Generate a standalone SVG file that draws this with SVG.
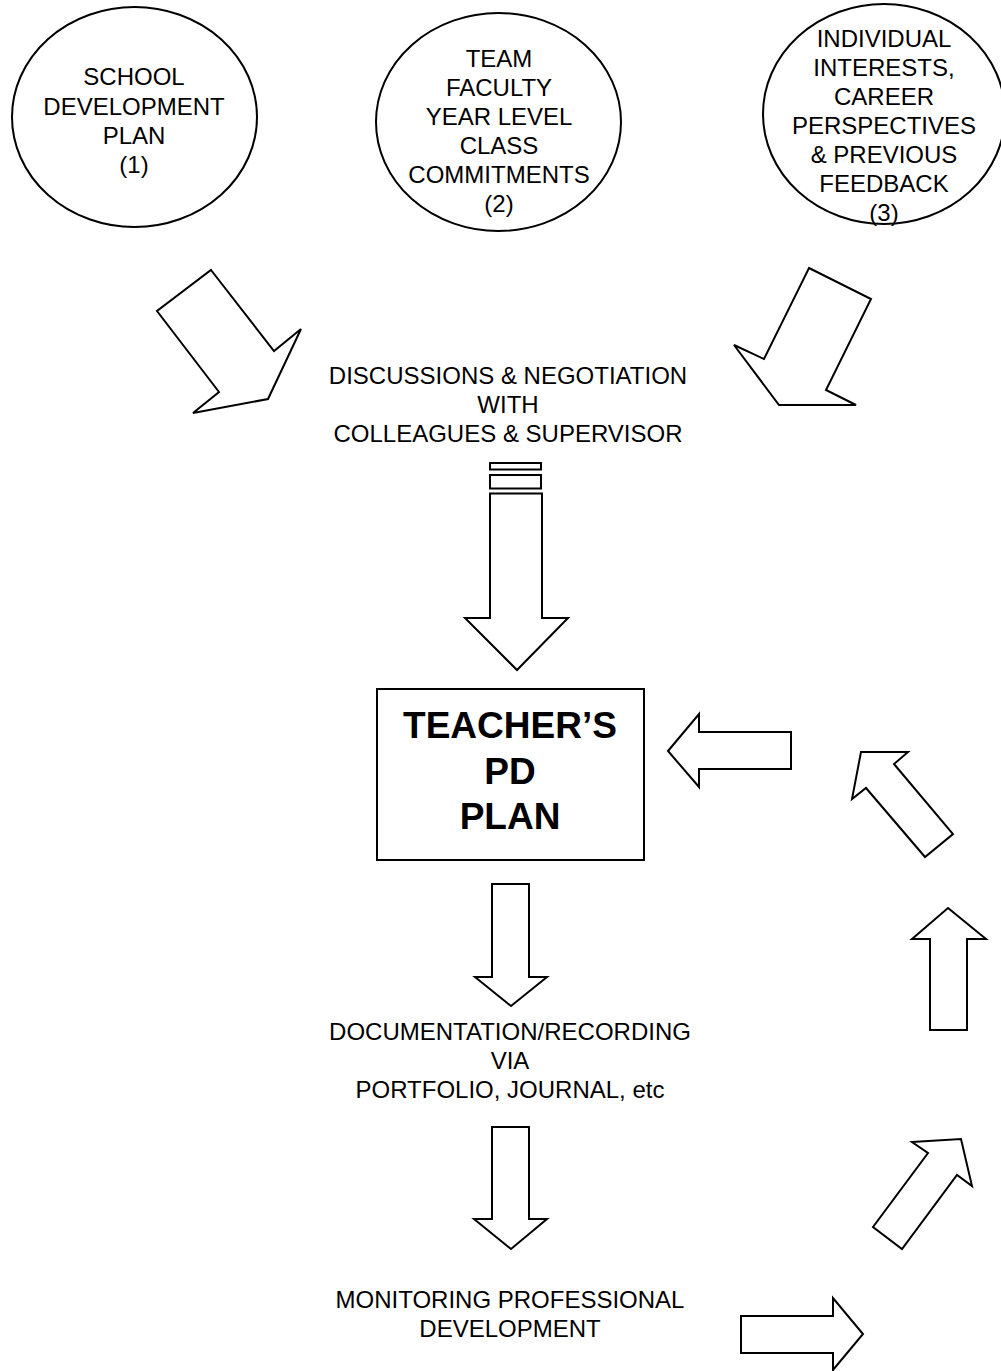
<svg xmlns="http://www.w3.org/2000/svg" width="1001" height="1371" viewBox="0 0 1001 1371">
<style>
.s{fill:#fff;stroke:#000;stroke-width:2;stroke-linejoin:miter}
.t{font-family:"Liberation Sans",Arial,sans-serif;font-size:24px;fill:#000;text-anchor:middle}
.b{font-family:"Liberation Sans",Arial,sans-serif;font-size:37px;font-weight:bold;fill:#000;text-anchor:middle}
</style>
<rect width="1001" height="1371" fill="#fff"/>
<g id="node-school">
<ellipse class="s" cx="134.5" cy="117" rx="122.5" ry="110"/>
<text class="t" x="134" y="85">SCHOOL</text>
<text class="t" x="134" y="114.5">DEVELOPMENT</text>
<text class="t" x="134" y="144">PLAN</text>
<text class="t" x="134" y="173">(1)</text>
</g>
<g id="node-team">
<ellipse class="s" cx="498.5" cy="122" rx="122.5" ry="109"/>
<text class="t" x="499" y="67">TEAM</text>
<text class="t" x="499" y="96">FACULTY</text>
<text class="t" x="499" y="125">YEAR LEVEL</text>
<text class="t" x="499" y="154">CLASS</text>
<text class="t" x="499" y="183">COMMITMENTS</text>
<text class="t" x="499" y="212">(2)</text>
</g>
<g id="node-individual">
<ellipse class="s" cx="884" cy="114" rx="121" ry="110"/>
<text class="t" x="884" y="47">INDIVIDUAL</text>
<text class="t" x="884" y="76">INTERESTS,</text>
<text class="t" x="884" y="105">CAREER</text>
<text class="t" x="884" y="134">PERSPECTIVES</text>
<text class="t" x="884" y="163">&amp; PREVIOUS</text>
<text class="t" x="884" y="192">FEEDBACK</text>
<text class="t" x="884" y="221">(3)</text>
</g>
<g id="node-discussions">
<text class="t" x="508" y="384">DISCUSSIONS &amp; NEGOTIATION</text>
<text class="t" x="508" y="413">WITH</text>
<text class="t" x="508" y="442">COLLEAGUES &amp; SUPERVISOR</text>
</g>
<g id="node-plan">
<rect class="s" x="377" y="689" width="267" height="171"/>
<text class="b" x="510" y="738">TEACHER’S</text>
<text class="b" x="510" y="784">PD</text>
<text class="b" x="510" y="829">PLAN</text>
</g>
<g id="node-documentation">
<text class="t" x="510" y="1040">DOCUMENTATION/RECORDING</text>
<text class="t" x="510" y="1069">VIA</text>
<text class="t" x="510" y="1098">PORTFOLIO, JOURNAL, etc</text>
</g>
<g id="node-monitoring">
<text class="t" x="510" y="1308">MONITORING PROFESSIONAL</text>
<text class="t" x="510" y="1337">DEVELOPMENT</text>
</g>
<g id="connectors">
<polygon class="s" points="211,270 274,351 301,329 268,399 193,413 219,392 157,311"/>
<polygon class="s" points="809,268 871,299 826,390 856,405 779,405 734,345 764,359"/>
<rect class="s" x="490" y="463" width="51" height="6.5"/>
<rect class="s" x="490" y="475" width="51" height="13.5"/>
<polygon class="s" points="490,493.5 542,493.5 542,618 568,618 517,670 465,618 490,618"/>
<polygon class="s" points="668,751 699,714 699,732 791,732 791,769 699,769 699,787"/>
<polygon class="s" points="861,752 908,752 894,764 953,834 925,857 866,788 852,799"/>
<polygon class="s" points="948,908 986,939 967,939 967,1030 930,1030 930,939 912,939"/>
<polygon class="s" points="912,1142 961,1139 972,1186 957,1175 902,1249 873,1227 928,1153"/>
<polygon class="s" points="492,884 529,884 529,977 547,977 511,1006 475,977 492,977"/>
<polygon class="s" points="492,1127 529,1127 529,1219 547,1219 511,1249 474,1219 492,1219"/>
<polygon class="s" points="741,1316 833,1316 833,1298 863,1334 833,1370 833,1353 741,1353"/>
</g>
</svg>
